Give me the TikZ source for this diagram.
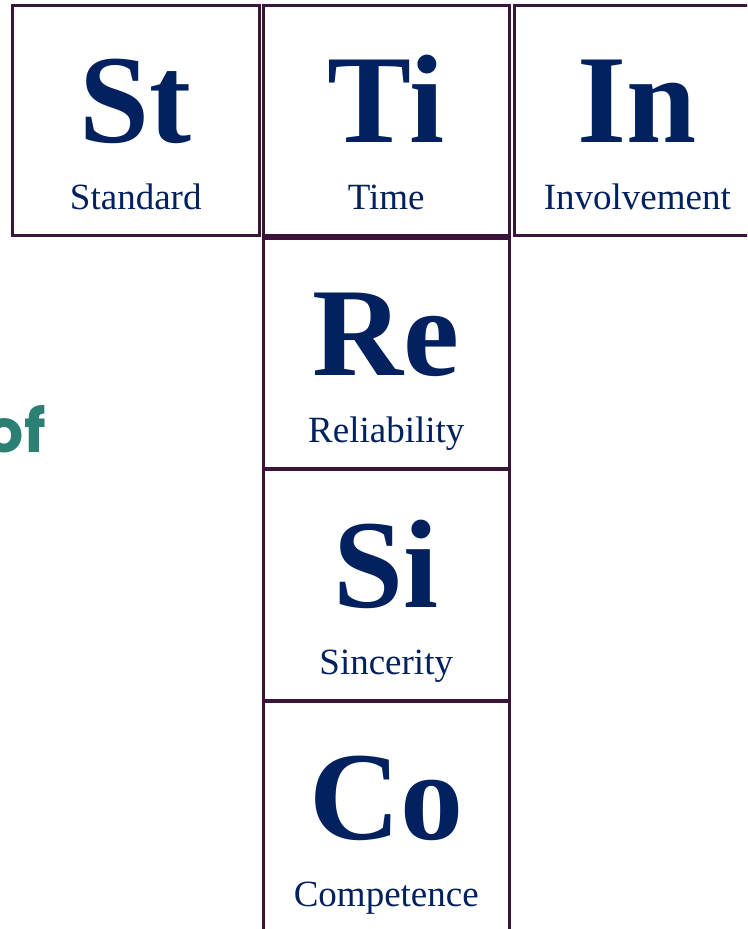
\documentclass[tikz,border=0pt]{standalone}
\usepackage{fontspec}
\setmainfont{Liberation Serif}
\newfontfamily\ofont{Poppins}
\usetikzlibrary{calc}
\definecolor{elnavy}{HTML}{03215F}
\definecolor{eledge}{HTML}{3A1539}
\definecolor{elteal}{HTML}{2B8073}
\tikzset{
  elbox/.style={draw=eledge, line width=3pt, minimum width=246.5pt, minimum height=230.5pt, inner sep=0pt, fill=white},
  elsym/.style={text=elnavy, font=\fontsize{126}{126}\selectfont\bfseries, anchor=base, inner sep=0pt},
  elname/.style={text=elnavy, font=\fontsize{37}{37}\selectfont, anchor=base, inner sep=0pt},
}
\begin{document}
\begin{tikzpicture}[x=1pt, y=-1pt]
\useasboundingbox (0,0) rectangle (747,929);
\begin{scope}
\clip (0,0) rectangle (747,929);
\node[text=elteal, font=\ofont\fontsize{60}{60}\selectfont\bfseries, anchor=base east, inner sep=0pt] (of) at (46,452) {of};
\node[elbox] (st) at (135.75,120.25) {};
\node[elbox] (ti) at (386.25,120.25) {};
\node[elbox] (in) at (637.25,120.25) {};
\node[elbox] (re) at (386.25,353.5) {};
\node[elbox] (si) at (386.25,585) {};
\node[elbox] (co) at (386.25,816.75) {};
\foreach \b/\s/\n in {st/St/Standard, ti/Ti/Time, in/In/Involvement, re/Re/Reliability, si/Si/Sincerity, co/Co/Competence}{
  \node[elsym] (\b-sym) at ($(\b.north)+(0,139)$) {\s};
  \node[elname] (\b-name) at ($(\b.north)+(0,206)$) {\n};
}
\end{scope}
\end{tikzpicture}
\end{document}
